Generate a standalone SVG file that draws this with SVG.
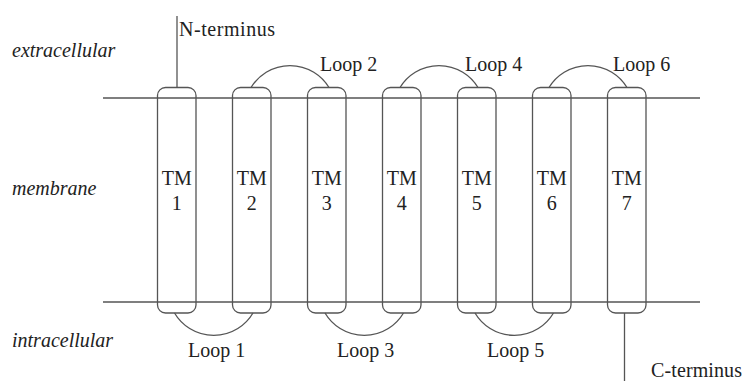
<svg xmlns="http://www.w3.org/2000/svg" width="743" height="381" viewBox="0 0 743 381" font-family="Liberation Serif, Times New Roman, serif" font-size="20">
  <style>
    .ln { fill: none; stroke: #555; stroke-width: 1.3; }
    .tm { fill: none; stroke: #555; stroke-width: 1.3; }
    .mid { text-anchor: middle; }
  </style>
  <rect width="743" height="381" fill="#fff"/>

  <!-- compartment labels -->
  <g id="regions" font-style="italic" fill="#222">
    <text x="12" y="57">extracellular</text>
    <text x="12" y="195">membrane</text>
    <text x="12" y="347">intracellular</text>
  </g>

  <!-- membrane boundaries -->
  <g id="membrane">
    <line class="ln" x1="103" y1="98" x2="700" y2="98"/>
    <line class="ln" x1="103" y1="302" x2="700" y2="302"/>
  </g>

  <!-- transmembrane helices -->
  <g fill="#222">
    <g id="tm1"><rect class="tm" x="157.5" y="87.5" width="38.5" height="225.5" rx="8"/><text class="mid" x="176.7" y="185">TM</text><text class="mid" x="176.7" y="210">1</text></g>
    <g id="tm2"><rect class="tm" x="232.5" y="87.5" width="38.5" height="225.5" rx="8"/><text class="mid" x="251.7" y="185">TM</text><text class="mid" x="251.7" y="210">2</text></g>
    <g id="tm3"><rect class="tm" x="307.5" y="87.5" width="38.5" height="225.5" rx="8"/><text class="mid" x="326.7" y="185">TM</text><text class="mid" x="326.7" y="210">3</text></g>
    <g id="tm4"><rect class="tm" x="382.5" y="87.5" width="38.5" height="225.5" rx="8"/><text class="mid" x="401.7" y="185">TM</text><text class="mid" x="401.7" y="210">4</text></g>
    <g id="tm5"><rect class="tm" x="457.5" y="87.5" width="38.5" height="225.5" rx="8"/><text class="mid" x="476.7" y="185">TM</text><text class="mid" x="476.7" y="210">5</text></g>
    <g id="tm6"><rect class="tm" x="532.5" y="87.5" width="38.5" height="225.5" rx="8"/><text class="mid" x="551.7" y="185">TM</text><text class="mid" x="551.7" y="210">6</text></g>
    <g id="tm7"><rect class="tm" x="607.5" y="87.5" width="38.5" height="225.5" rx="8"/><text class="mid" x="626.7" y="185">TM</text><text class="mid" x="626.7" y="210">7</text></g>
  </g>

  <!-- loops and termini -->
  <g id="connectors">
    <line class="ln" x1="177" y1="16" x2="177" y2="87.5"/>
    <line class="ln" x1="624.5" y1="313" x2="624.5" y2="381"/>
    <!-- extracellular loops -->
    <path class="ln" d="M251 87.5 A45.6 45.6 0 0 1 329 87.5"/>
    <path class="ln" d="M400 87.5 A45.6 45.6 0 0 1 478 87.5"/>
    <path class="ln" d="M549 87.5 A45.6 45.6 0 0 1 627 87.5"/>
    <!-- intracellular loops -->
    <path class="ln" d="M174.5 313 A45.6 45.6 0 0 0 253 313"/>
    <path class="ln" d="M325 313 A45.6 45.6 0 0 0 403.5 313"/>
    <path class="ln" d="M475 313 A45.6 45.6 0 0 0 553.5 313"/>
  </g>

  <!-- labels -->
  <g id="labels" fill="#222">
    <text x="179" y="36" textLength="96">N-terminus</text>
    <text x="651" y="377" textLength="91">C-terminus</text>
    <text x="320" y="71">Loop 2</text>
    <text x="465" y="71">Loop 4</text>
    <text x="613" y="71">Loop 6</text>
    <text x="188" y="357">Loop 1</text>
    <text x="337" y="357">Loop 3</text>
    <text x="487" y="357">Loop 5</text>
  </g>
</svg>
